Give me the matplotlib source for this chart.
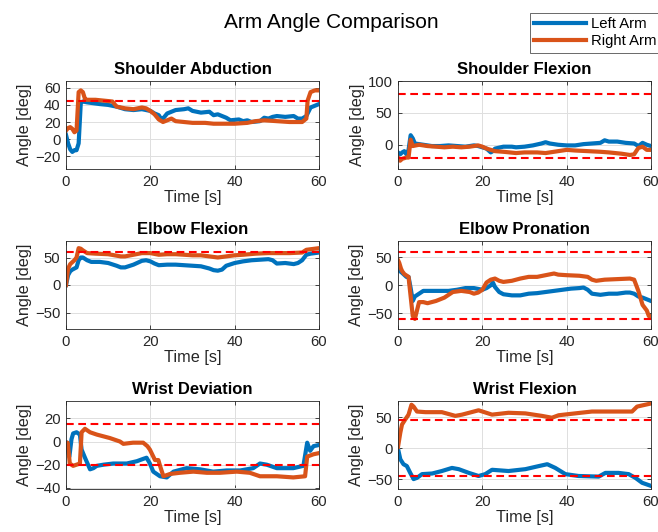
import numpy as np
import matplotlib.pyplot as plt

plt.rcParams['font.family'] = ['Liberation Sans', 'DejaVu Sans']

# --- data (time [s], angle [deg]) ---

# Shoulder Abduction
sa_t_left = [0, 0.5, 1, 1.5, 2, 2.5, 3, 3.5, 4, 5, 8, 10, 12, 14, 16, 18, 19, 20, 21, 22, 22.5, 23, 24, 26, 28, 29,
             30, 32, 34, 35, 36, 38, 39, 41, 42, 43, 44, 46, 47, 48, 49, 50, 52, 54, 55, 56, 57, 58, 59, 60]
sa_left = [5, -5, -12, -15, -13, -13, -5, 42, 44, 43, 41, 40, 38, 35, 34, 35, 34, 33, 30, 28, 24, 24, 30, 34, 35, 36,
           33, 31, 32, 28, 29, 25, 22, 23, 21, 22, 20, 21, 25, 24, 26, 27, 26, 27, 24, 24, 27, 37, 39, 41]
sa_t_right = [0, 0.5, 1, 1.5, 2, 2.5, 3, 3.5, 4, 4.5, 5, 7, 9, 11, 12, 14, 16, 18, 19, 20, 21, 22, 23, 24, 25, 26,
              28, 30, 33, 35, 40, 43, 45, 47, 50, 53, 56, 57, 57.3, 58, 59, 60]
sa_right = [10, 13, 14, 12, 8, 10, 55, 57, 55, 47, 46, 46, 45, 44, 38, 36, 35, 37, 36, 33, 29, 23, 20, 22, 24, 21,
            20, 19, 19, 18, 18, 19, 21, 22, 21, 20, 20, 24, 45, 55, 57, 57]

# Shoulder Flexion
sf_t_left = [0, 0.5, 1, 1.5, 2, 2.5, 3, 3.5, 4, 6, 8, 10, 12, 14, 16, 18, 19, 20, 21, 22, 22.5, 23, 25, 27, 28, 30,
             32, 34, 35, 36, 38, 40, 42, 44, 46, 48, 49, 50, 52, 54, 56, 57, 58, 59, 60]
sf_left = [-12, -15, -12, -10, -15, -8, 15, 10, 2, 0, -2, -2, -1, -2, -3, -1, -2, -4, -6, -12, -10, -6, -3, -3, -4, -3,
           -1, 2, 4, 2, 0, -1, -1, 1, 2, 3, 7, 5, 5, 3, 2, -2, 3, 0, -2]
sf_t_right = [0, 0.5, 1, 2, 2.5, 3, 3.5, 5, 7, 9, 11, 13, 15, 17, 19, 20, 21, 23, 25, 28, 30, 33, 35, 37, 40, 42,
              45, 48, 50, 53, 55, 56, 57, 58, 59, 60]
sf_right = [-20, -25, -22, -20, -20, 8, -2, 0, -2, -3, -4, -3, -4, -3, -1, -3, -6, -10, -11, -13, -12, -12, -13, -11,
            -8, -9, -10, -11, -12, -14, -16, -15, -5, -3, -8, -8]

# Elbow Flexion
ef_t_left = [0, 0.5, 1, 1.5, 2, 2.5, 3, 3.5, 4, 5, 6, 8, 10, 12, 13, 14, 16, 18, 19, 20, 21, 22, 24, 26, 28, 30,
             32, 34, 35, 36, 37, 38, 40, 42, 44, 46, 48, 49, 50, 52, 54, 55, 56, 57, 58, 60]
ef_left = [0, 18, 25, 28, 30, 32, 45, 50, 50, 45, 42, 42, 40, 35, 32, 32, 37, 44, 45, 43, 39, 36, 37, 37, 36, 35,
           34, 30, 27, 26, 28, 35, 40, 43, 45, 46, 47, 45, 39, 40, 38, 40, 45, 55, 57, 59]
ef_t_right = [0, 0.5, 1, 2, 2.5, 3, 3.5, 4, 5, 7, 10, 13, 14, 16, 18, 20, 22, 24, 26, 28, 30, 32, 34, 36, 38, 40,
              42, 45, 48, 50, 53, 56, 57, 58, 60]
ef_right = [0, 30, 38, 45, 50, 67, 66, 63, 58, 57, 56, 52, 52, 55, 58, 58, 55, 56, 56, 55, 54, 54, 52, 50, 52, 54,
            55, 57, 58, 58, 58, 59, 64, 65, 67]

# Elbow Pronation
ep_t_left = [0, 0.5, 1, 2, 2.5, 3, 3.5, 4, 5, 6, 8, 10, 12, 14, 16, 18, 20, 21, 22, 22.5, 23, 24, 25, 27, 29, 31,
             33, 35, 37, 39, 41, 43, 44, 45, 46, 48, 50, 52, 54, 55, 56, 57, 58, 59, 60]
ep_left = [28, 25, 22, 15, 15, -5, -28, -20, -15, -10, -10, -10, -10, -8, -5, -5, -8, -5, 0, 5, -3, -12, -16, -18,
           -18, -15, -14, -12, -10, -8, -6, -5, -4, -8, -15, -17, -15, -15, -13, -13, -15, -20, -22, -25, -28]
ep_t_right = [0, 0.3, 0.7, 1, 1.5, 2.5, 3, 3.5, 4, 4.5, 5, 6, 7, 9, 11, 13, 15, 17, 18, 19, 20, 21, 22, 23, 24, 25,
              27, 29, 31, 33, 35, 37, 38, 40, 43, 45, 46, 47, 49, 52, 55, 56, 57, 58, 59, 59.5, 60]
ep_right = [45, 40, 30, 25, 20, 15, -20, -55, -60, -45, -30, -30, -32, -28, -22, -12, -10, -12, -15, -13, -8, 5, 10,
            12, 8, 6, 8, 12, 15, 15, 18, 21, 19, 18, 17, 15, 10, 8, 10, 11, 12, 10, -10, -35, -45, -55, -55]

# Wrist Deviation
wd_t_left = [0, 0.8, 1.3, 1.7, 2.5, 3.3, 3.7, 4.5, 5.7, 6.5, 7.3, 8.9, 11.2, 14.4, 16.8, 18.3, 19.1, 19.9, 20.7,
             22.3, 23.9, 25.5, 28.6, 31.8, 34.9, 38.1, 41.3, 44.4, 46, 47.6, 50, 53.9, 56.3, 57.2, 57.9, 58.7, 60]
wd_left = [-1, -13, 2, 7, 8, 6, -7, -14, -24, -23, -21, -20, -19, -19, -17, -15, -14, -19, -26, -30, -31, -26, -23,
           -24, -26, -25, -25, -23, -19, -20, -23, -23, -21, -1, -8, -4, -3]
wd_t_right = [0, 0.4, 0.9, 1.7, 2.5, 3.3, 3.7, 4.5, 5.7, 7.3, 10.4, 12.8, 13.6, 15.9, 18.3, 19.3, 19.9, 21.1, 21.9,
              22.3, 23.1, 24.7, 27, 30.2, 33.4, 36.5, 40.5, 43.6, 46, 50, 53.9, 56.7, 57.2, 58.7, 60]
wd_right = [-4, -1, -19, -21, -20, -19, 8, 11, 8, 6, 3, 0, -2, -1, -1, -4, -7, -16, -16, -21, -30, -28, -27, -26,
            -27, -27, -26, -27, -30, -30, -31, -30, -13, -11, -10]

# Wrist Flexion
wf_t_left = [0, 0.55, 1.3, 2.1, 2.9, 3.7, 4.5, 5.7, 8.1, 10.4, 12.8, 14.4, 16.8, 19.1, 20.7, 22.3, 26.2, 30.2, 33.4,
             35.4, 37.3, 39.7, 42.8, 47.6, 49.2, 52.3, 54.7, 56.3, 57.9, 60]
wf_left = [-1, -18, -26, -29, -40, -50, -48, -42, -41, -37, -32, -34, -40, -45, -42, -35, -37, -34, -29, -26, -32,
           -42, -45, -46, -40, -40, -42, -48, -56, -61]
wf_t_right = [0, 0.55, 0.95, 1.7, 2.5, 3.2, 3.7, 4.5, 6.5, 10.4, 13.6, 15.2, 19.1, 22.3, 26.2, 30.2, 34.1, 36.5,
              38.1, 42, 46, 50, 55.5, 56.7, 60]
wf_right = [2, 25, 38, 46, 54, 70, 67, 59, 58, 58, 52, 54, 61, 54, 57, 56, 52, 49, 53, 56, 59, 59, 59, 67, 72]

titles = ['Shoulder Abduction', 'Shoulder Flexion', 'Elbow Flexion',
          'Elbow Pronation', 'Wrist Deviation', 'Wrist Flexion']
left_data = [(sa_t_left, sa_left), (sf_t_left, sf_left), (ef_t_left, ef_left),
             (ep_t_left, ep_left), (wd_t_left, wd_left), (wf_t_left, wf_left)]
right_data = [(sa_t_right, sa_right), (sf_t_right, sf_right), (ef_t_right, ef_right),
              (ep_t_right, ep_right), (wd_t_right, wd_right), (wf_t_right, wf_right)]
thresholds = [[45], [80, -20], [60], [60, -60], [15, -20], [45, -45]]
ylims = [(-35, 68), (-38, 100), (-80, 80), (-78, 79), (-41, 35), (-66, 76)]
yticks = [[-20, 0, 20, 40, 60], [0, 50, 100], [-50, 0, 50], [-50, 0, 50], [-40, -20, 0, 20], [-50, 0, 50]]

blue = '#0072BD'
orange = '#D95319'
dark = '#262626'

fig = plt.figure(figsize=(6.58, 5.32), dpi=100)

lefts = [66 / 658, 398 / 658]
bottoms = [1 - 169 / 532, 1 - 329 / 532, 1 - 489 / 532]
w, h = 253 / 658, 88 / 532

for i in range(6):
    ax = fig.add_axes([lefts[i % 2], bottoms[i // 2], w, h])
    lt, lv = left_data[i]
    rt, rv = right_data[i]
    l1, = ax.plot(lt, lv, color=blue, lw=3, label='Left Arm')
    l2, = ax.plot(rt, rv, color=orange, lw=3, label='Right Arm')
    for th in thresholds[i]:
        ax.axhline(th, color='#FF0000', lw=1.5, ls=(0, (3.7, 2.2)))
    ax.set_xlim(0, 60)
    ax.set_ylim(*ylims[i])
    ax.set_xticks([0, 20, 40, 60])
    ax.set_yticks(yticks[i])
    ax.grid(True, color='#dfdfdf', lw=0.7)
    ax.set_axisbelow(True)
    ax.tick_params(direction='in', top=True, right=True, labelsize=10.7, colors=dark,
                   length=3, width=0.6, pad=4)
    for s in ax.spines.values():
        s.set_color(dark)
        s.set_linewidth(0.6)
    ax.set_title(titles[i], fontsize=12, fontweight='bold', pad=5)
    ax.set_xlabel('Time [s]', fontsize=11.7, color=dark, labelpad=1)
    ax.set_ylabel('Angle [deg]', fontsize=11.7, color=dark, labelpad=2)

fig.text(0.503, 1 - 22 / 532, 'Arm Angle Comparison', fontsize=15, ha='center', va='center')

leg = fig.legend([l1, l2], ['Left Arm', 'Right Arm'], loc='upper left',
                 bbox_to_anchor=(530 / 658, 1 - 13 / 532), fontsize=10.7, frameon=True,
                 fancybox=False, handlelength=3.5, handletextpad=0.3, borderpad=0.3,
                 labelspacing=0.2, borderaxespad=0)
leg.get_frame().set_edgecolor(dark)
leg.get_frame().set_linewidth(0.6)

fig.savefig('out.png', dpi=100)
